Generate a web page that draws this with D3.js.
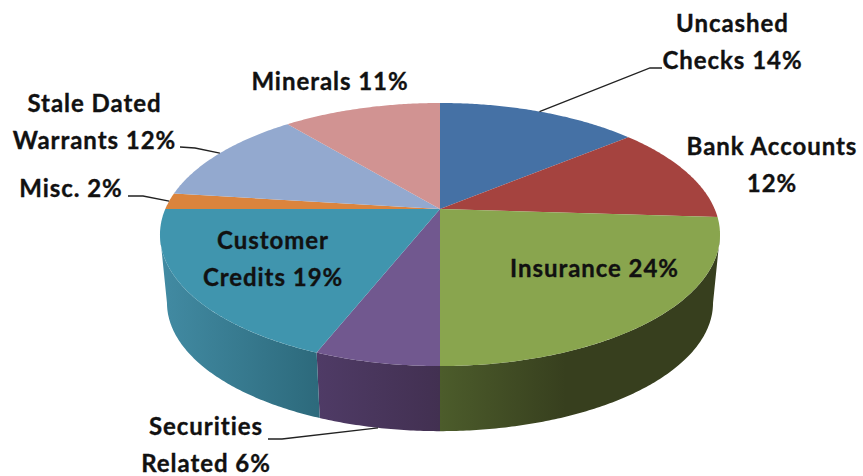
<!DOCTYPE html>
<html>
<head>
<meta charset="utf-8">
<script src="https://cdnjs.cloudflare.com/ajax/libs/d3/7.8.5/d3.min.js"></script>
<style>
    html, body { margin: 0; padding: 0; background: #fff; }
    text { font-family: Lato, "Open Sans", sans-serif; font-weight: 700; font-size: 24px; letter-spacing: 0.95px; fill: #111; stroke: #111; stroke-width: 0.35px; text-anchor: middle; }
</style>
</head>
<body>
<div id="chart"></div>
<script>
const categories = ["Uncashed Checks", "Bank Accounts", "Insurance", "Securities Related", "Customer Credits", "Misc.", "Stale Dated Warrants", "Minerals"];
const values = [14, 12, 24, 6, 19, 2, 12, 11];
const labelLines = [
    ["Uncashed", "Checks 14%"],
    ["Bank Accounts", "12%"],
    ["Insurance 24%"],
    ["Securities", "Related 6%"],
    ["Customer", "Credits 19%"],
    ["Misc. 2%"],
    ["Stale Dated", "Warrants 12%"],
    ["Minerals 11%"]
];
const topColors = ["#4571a5", "#a5433f", "#89a54e", "#71588f", "#4095ae", "#db843d", "#93a9cf", "#d19392"];
const sideColors = [
    ["#2c4a6e", "#2c4a6e"], ["#6c2c2a", "#6c2c2a"], ["#4c5c2b", "#373f1e"], ["#4f3b66", "#423051"],
    ["#428ba3", "#2d6a7c"], ["#8f5527", "#8f5527"], ["#5f6e88", "#5f6e88"], ["#885f5f", "#885f5f"]
];
// label centre x, first baseline, and leader points out of the pie
const labelPos = [[732.5, 32], [772, 155], [594.5, 277], [206, 435], [273, 249], [71, 197], [94.5, 112], [330, 90]];
const leaders = {
    0: [[650, 68], [662, 68]],
    3: [[282, 439], [268, 439]],
    5: [[143, 196], [128, 196]],
    6: [[195, 148], [180, 147]]
};

const WIDTH = 863, HEIGHT = 476;
const CX = 440, CY = 209;
const RX = 274.7, RY = 126.6, TILT = 0.194;
const DEPTH = 69, BOTTOM_SCALE = 0.975;
const LINE_HEIGHT = 36.5;

// circle in the pie's plane -> screen, far edge squeezed by perspective
const projectTop = a => {
    const w = 1 + TILT * Math.cos(a);
    return [CX + RX * Math.sin(a) / w, CY - RY * Math.cos(a) / w];
};
const projectBottom = a => {
    const p = projectTop(a);
    return [CX + (p[0] - CX) * BOTTOM_SCALE, CY + (p[1] - CY) * BOTTOM_SCALE + DEPTH];
};
const sampleAngles = (a0, a1) => {
    const n = Math.max(2, Math.ceil((a1 - a0) / 0.01));
    return d3.range(n + 1).map(i => a0 + (a1 - a0) * i / n);
};

const svg = d3.select("#chart").append("svg")
    .attr("width", WIDTH)
    .attr("height", HEIGHT)
    .style("display", "block");

const slices = d3.pie().sort(null).value(d => d)(values);
const line = d3.line();
const defs = svg.append("defs");

// walls run between the ellipse's widest points
const wallFrom = Math.acos(-TILT), wallTo = 2 * Math.PI - wallFrom;
slices.forEach((s, i) => {
    const a0 = Math.max(s.startAngle, wallFrom), a1 = Math.min(s.endAngle, wallTo);
    if (a1 <= a0) return;
    const angles = sampleAngles(a0, a1);
    const xs = angles.map(a => projectTop(a)[0]);
    const gradId = "wall" + i;
    const grad = defs.append("linearGradient")
        .attr("id", gradId)
        .attr("gradientUnits", "userSpaceOnUse")
        .attr("x1", d3.min(xs)).attr("x2", d3.max(xs))
        .attr("y1", 0).attr("y2", 0);
    grad.append("stop").attr("offset", 0).attr("stop-color", sideColors[i][0]);
    grad.append("stop").attr("offset", i === 2 ? 0.45 : 1).attr("stop-color", sideColors[i][1]);

    const pts = angles.map(projectTop).concat(angles.slice().reverse().map(projectBottom));
    svg.append("path")
        .attr("d", line(pts) + "Z")
        .attr("fill", `url(#${gradId})`);
});

// top surface
svg.selectAll("path.top")
    .data(slices)
    .join("path")
    .attr("class", "top")
    .attr("d", s => line([[CX, CY]].concat(sampleAngles(s.startAngle, s.endAngle).map(projectTop))) + "Z")
    .attr("fill", (s, i) => topColors[i]);

// leader lines start on the slice's middle
Object.keys(leaders).forEach(key => {
    const i = +key;
    const mid = (slices[i].startAngle + slices[i].endAngle) / 2;
    const start = i === 3 ? projectBottom(mid) : projectTop(mid);
    svg.append("path")
        .attr("d", line([start].concat(leaders[key])))
        .attr("fill", "none")
        .attr("stroke", "#222")
        .attr("stroke-width", 1.3);
});

labelLines.forEach((lines, i) => {
    const text = svg.append("text")
        .attr("aria-label", categories[i]);
    lines.forEach((l, j) => {
        text.append("tspan")
            .attr("x", labelPos[i][0])
            .attr("y", labelPos[i][1] + j * LINE_HEIGHT)
            .text(l);
    });
});
</script>
</body>
</html>
